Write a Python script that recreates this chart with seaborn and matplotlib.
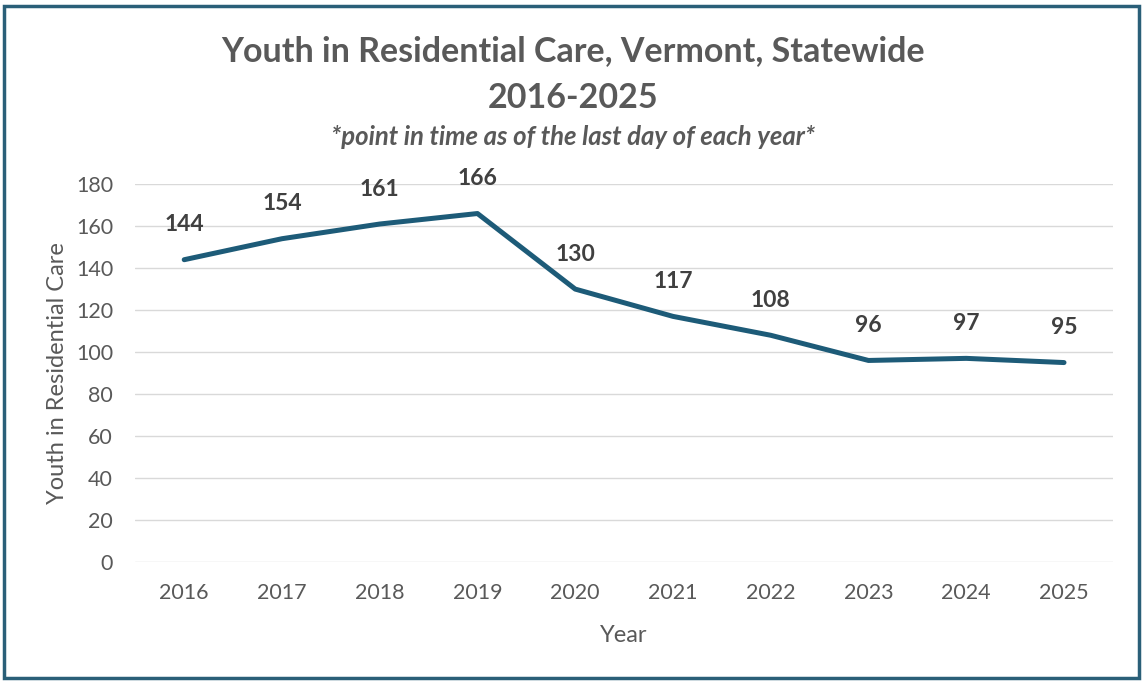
import matplotlib
matplotlib.use("Agg")
import matplotlib.pyplot as plt
import seaborn as sns
import pandas as pd
from matplotlib.patches import Rectangle

years = ["2016", "2017", "2018", "2019", "2020", "2021", "2022", "2023", "2024", "2025"]
youth = [144, 154, 161, 166, 130, 117, 108, 96, 97, 95]

sns.set_style("white")
plt.rcParams['font.family'] = ['Lato', 'DejaVu Sans']

df = pd.DataFrame({'Year': years, 'Youth': youth})
line_color = '#1d5b78'
text_gray = '#595959'

fig = plt.figure(figsize=(11.42, 6.82), dpi=100)
ax = fig.add_axes([0.1185, 0.176, 0.856, 0.554])

sns.lineplot(data=df, x='Year', y='Youth', ax=ax, color=line_color, linewidth=3.6, sort=False)

for i, v in enumerate(youth):
    ax.annotate(str(v), (i, v), xytext=(0, 25), textcoords='offset points',
                ha='center', va='center', fontsize=16.5, fontweight='bold', color='#404040')

ax.set_xlim(-0.5, 9.5)
ax.set_ylim(0, 180)
ax.set_yticks(range(0, 181, 20))
ax.yaxis.grid(True, color='#d9d9d9', linewidth=1)
for s in ax.spines.values():
    s.set_visible(False)
ax.tick_params(axis='both', length=0, labelsize=15.5, labelcolor=text_gray)
ax.tick_params(axis='x', pad=15)
ax.tick_params(axis='y', pad=16)
ax.set_xlabel('Year', fontsize=17, color=text_gray, labelpad=16)
ax.set_ylabel('Youth in Residential Care', fontsize=17, color=text_gray, labelpad=6)

fig.text(0.502, 0.925, 'Youth in Residential Care, Vermont, Statewide', ha='center', va='center',
         fontsize=24.5, fontweight='bold', color=text_gray)
fig.text(0.502, 0.856, '2016-2025', ha='center', va='center',
         fontsize=24.5, fontweight='bold', color=text_gray)
fig.text(0.502, 0.799, '*point in time as of the last day of each year*', ha='center', va='center',
         fontsize=18.5, fontweight='bold', fontstyle='italic', color=text_gray)

fig.patches.append(Rectangle((0.0035, 0.006), 0.994, 0.985, transform=fig.transFigure,
                             fill=False, edgecolor='#2a5f78', linewidth=2.5))

fig.savefig('out.png', dpi=100)
